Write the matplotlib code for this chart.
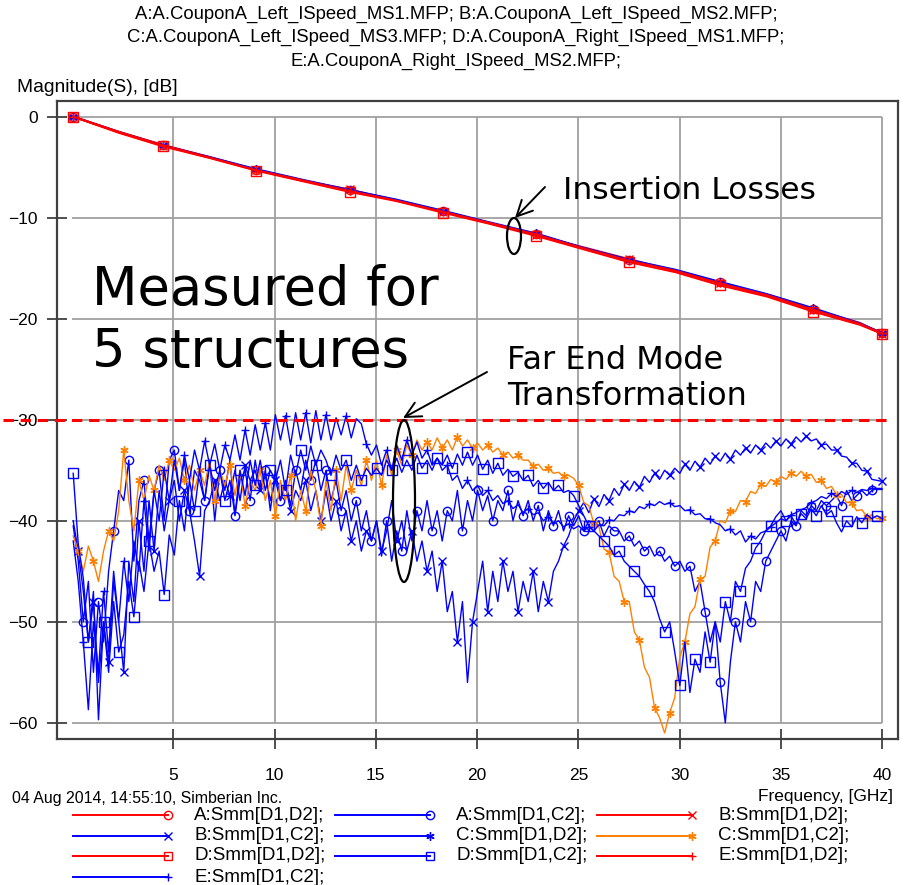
import numpy as np
import matplotlib.pyplot as plt
from matplotlib.patches import Ellipse

W, H = 907, 885

# insertion loss, Smm[D1,D2]
il_freq = [0.05, 2.3, 4.5, 6.8, 9.1, 11.4, 13.7, 16.0, 18.3, 20.6,
           22.9, 25.2, 27.5, 29.8, 32.0, 34.3, 36.6, 38.9, 40.0]
il_a = [0.0, -1.5, -2.8, -4.0, -5.25, -6.3, -7.3, -8.25, -9.35, -10.5,
        -11.6, -13.0, -14.2, -15.2, -16.4, -17.6, -19.0, -20.5, -21.4]
il_b = [0.0, -1.55, -2.9, -4.05, -5.3, -6.35, -7.2, -8.3, -9.4, -10.55,
        -11.7, -12.9, -14.1, -15.3, -16.5, -17.7, -19.1, -20.4, -21.5]
il_c = [0.0, -1.5, -2.85, -4.0, -5.2, -6.25, -7.25, -8.2, -9.3, -10.45,
        -11.55, -12.95, -14.15, -15.15, -16.35, -17.55, -18.95, -20.45, -21.4]
il_d = [0.0, -1.6, -2.95, -4.1, -5.35, -6.4, -7.45, -8.35, -9.5, -10.6,
        -11.8, -13.1, -14.4, -15.4, -16.7, -17.8, -19.3, -20.6, -21.5]
il_e = [0.0, -1.5, -2.85, -4.05, -5.3, -6.3, -7.35, -8.3, -9.4, -10.5,
        -11.65, -13.0, -14.25, -15.25, -16.5, -17.65, -19.1, -20.5, -21.45]

# far end mode transformation, Smm[D1,C2]
fem_freq = np.linspace(0.05, 40.0, 161)
fem_a = [-40.5, -44, -50, -46, -55, -48, -52, -45, -41, -37,
         -38, -34, -44, -38, -36, -42, -37, -35, -40, -34,
         -33, -37, -34, -39, -35, -36, -38, -34, -40, -35,
         -37, -34, -39.5, -36, -35, -38, -34, -37, -35, -39,
         -35, -38, -36, -38.5, -35, -37, -34, -36, -34, -37,
         -35, -38, -36, -39, -37, -40, -38, -41, -39, -42,
         -40, -43.5, -40, -44, -41, -43, -39, -42, -39, -41,
         -38, -41, -39, -42, -39, -40, -37, -41, -38, -40,
         -37, -39, -37.5, -40, -38, -39, -37, -40, -38, -39.5,
         -38, -40, -38.5, -41, -39, -40.5, -39, -41, -39.5, -40.5,
         -39.5, -41, -40, -40.5, -40, -41.5, -40.5, -41, -41, -42,
         -41.5, -42.5, -42, -43, -42.5, -43.5, -43, -44, -43.5, -44.5,
         -44, -45, -44.5, -47, -46, -49, -52, -50, -56, -60,
         -54, -50, -52, -48, -50, -46, -47, -44, -43, -42,
         -41, -42, -40, -40.5, -39, -39.5, -38.5, -39, -38, -38.5,
         -38, -37.5, -38.5, -37, -38, -37.5, -37, -37.5, -37, -36.8,
         -36.8]
fem_b = [-40, -43, -47, -52, -48, -56, -50, -54, -46, -50,
         -55, -44, -48, -40, -45, -38, -43, -37, -41, -38,
         -36, -40, -37, -39, -42, -45.5, -39, -38, -36, -38,
         -36, -37.5, -35, -38, -34.5, -36, -35, -37, -35.5, -38,
         -36, -38, -36.5, -39, -37, -38, -36, -39, -37, -40,
         -37, -40, -38, -41, -39, -42, -40, -43, -41, -42,
         -40, -43, -41, -38, -42, -40, -43, -41, -44, -42,
         -45, -43, -47, -44, -49, -47, -52, -48, -56, -50,
         -47, -44, -49, -45, -48, -44, -47, -45, -49, -46,
         -48, -45, -49, -46, -48, -45, -44, -42.5, -41.5, -40,
         -39, -38.2, -39.2, -37.8, -38.6, -37.4, -38, -36.8, -37.5, -36.4,
         -37, -36.1, -36.7, -35.6, -36.2, -35.3, -35.9, -35, -35.5, -34.8,
         -35.3, -34.4, -35, -34.1, -34.7, -33.8, -34.4, -33.6, -34.1, -33.3,
         -33.9, -33, -33.5, -32.8, -33.3, -32.5, -33, -32.3, -32.8, -32.1,
         -32.6, -31.9, -32.4, -31.7, -32.2, -31.6, -32.1, -31.9, -32.5, -32.4,
         -33, -33, -33.6, -33.7, -34.3, -34.3, -35, -35.1, -35.9, -36,
         -36.1]
fem_c = [-41.5, -43, -45, -42.5, -44, -46, -43, -41, -42, -39,
         -33, -38, -41, -36, -38, -35.5, -37, -34.5, -36, -34,
         -35, -33.8, -36, -34.5, -37, -35, -36.5, -34, -38, -35,
         -36.5, -34.5, -37.5, -35, -38.5, -36, -37, -35, -38, -36,
         -39.5, -36, -38, -35.5, -40, -37, -39, -35, -37, -40.5,
         -36, -39, -35, -38, -34.5, -37, -35, -36.5, -34, -36,
         -34, -36.5, -33.5, -35.5, -33, -34.5, -32.5, -33.5, -32, -33,
         -32.2, -33, -31.8, -32.8, -32, -33, -31.7, -32.6, -32, -32.8,
         -32.3, -33, -32.5, -33.2, -32.8, -33.5, -33.2, -33.8, -33.5, -34,
         -34, -34.6, -34.4, -35, -34.8, -35.3, -35.2, -35.6, -35.5, -35.8,
         -36.5, -38.2, -38.5, -40.3, -40.6, -42.8, -43.1, -45.5, -46, -48,
         -48, -51, -51.8, -54.5, -55.5, -58.5, -59.5, -61, -59, -57.5,
         -53.5, -52, -49.2, -48.5, -45.8, -45.5, -42.6, -42, -40, -40.2,
         -39, -39.1, -38, -38.1, -37.1, -37.3, -36.4, -36.6, -35.9, -36.2,
         -35.6, -35.9, -35.3, -35.6, -35.1, -35.6, -35.4, -36.2, -36, -36.8,
         -36.6, -37.4, -37.4, -38.2, -38.2, -39, -38.9, -39.6, -39.4, -39.8,
         -39.7]
fem_d = [-35.3, -42.3, -45.7, -52, -47, -59.7, -50, -55, -48, -53,
         -51.3, -46, -49.5, -44, -47, -42, -45, -43, -47.3, -41.4,
         -43.4, -38, -41, -36, -39, -35, -38, -34.5, -37, -35,
         -38, -36, -39.4, -35, -37.5, -34, -36.5, -34, -37, -35,
         -36, -34, -37, -33.5, -35.5, -33, -35, -32.6, -34.5, -33,
         -34, -35.5, -33.5, -35, -34, -36, -34.5, -36, -34.8, -35.5,
         -34.8, -35.5, -34, -35, -33.8, -35.2, -34, -35, -33.5, -34.8,
         -34, -35, -33.8, -34.5, -33.5, -34.8, -33.4, -34.5, -33.2, -34.5,
         -33.5, -34.9, -34, -35.3, -34.3, -35.5, -34.9, -35.6, -35.2, -36,
         -35.5, -36.6, -36, -36.8, -36.2, -37, -36.5, -37.2, -37, -37.5,
         -38.5, -39.5, -40.5, -41, -41.5, -42, -42.5, -43.4, -43, -44,
         -44.5, -45, -45.5, -46.3, -47, -48, -49.7, -51, -50, -53,
         -56.3, -52, -57, -53.7, -55, -51, -54, -50, -52, -48,
         -50, -46, -47, -44.7, -44, -42.7, -42, -41, -40.5, -39.6,
         -39, -40, -39.5, -40.4, -39.3, -39.8, -38.8, -39.5, -38.5, -39.4,
         -39, -40.2, -41.1, -40, -40.6, -39.6, -40.2, -39.4, -39.8, -39.5,
         -39.8]
fem_e = [-42, -46, -52, -58.7, -50, -55, -47, -53, -45, -50,
         -44, -48, -42, -45, -38, -43, -37, -40, -35, -38,
         -34, -37, -33.5, -36, -33, -35, -32.1, -34.5, -32.4, -35,
         -32.5, -34, -31.5, -34, -31, -33.5, -30.5, -33, -30.3, -33,
         -29.5, -32, -29.6, -32.5, -29.3, -32, -29.3, -32.3, -29.1, -32,
         -29.5, -32, -29.8, -31.5, -29.6, -31.8, -29.9, -30.4, -32.4, -33.5,
         -32.5, -34.5, -33, -35, -32.5, -34, -32, -33.5, -32.2, -33.8,
         -33, -34.5, -33.8, -35, -34.5, -36, -35.5, -36.8, -36, -37,
         -36.5, -37.5, -37, -38, -37.5, -38.3, -38, -38.8, -38.4, -39.2,
         -38.8, -39.4, -39.2, -40, -39.6, -40.3, -40, -40.6, -40.3, -40.8,
         -40.5, -41, -40.6, -41, -40.4, -40.5, -39.9, -40, -39.4, -39.5,
         -39, -39.2, -38.6, -38.8, -38.3, -38.5, -38.1, -38.4, -38.2, -38.6,
         -38.5, -39, -38.9, -39.4, -39.3, -39.8, -39.8, -40.2, -40.4, -41,
         -40.8, -41.4, -41, -42.1, -41.5, -41.8, -41.2, -41, -40.6, -40.2,
         -39.8, -40, -39.4, -39.2, -38.9, -38.7, -38.2, -38, -37.6, -37.8,
         -37.3, -37.6, -37.1, -37.4, -37, -37.2, -36.9, -37, -36.8, -36.9,
         -36.9]

limit_db = -30
x_ticks = [5, 10, 15, 20, 25, 30, 35, 40]
y_ticks = [0, -10, -20, -30, -40, -50, -60]

RED = "#ff0000"
BLUE = "#0000ff"
ORANGE = "#ff8000"
ASTER = (6, 2, 0)

# label, x data, y data, color, marker, markevery
series = [
    ("A:Smm[D1,D2];", il_freq, il_a, RED, "o", (0, 2)),
    ("A:Smm[D1,C2];", fem_freq, fem_a, BLUE, "o", (2, 3)),
    ("B:Smm[D1,D2];", il_freq, il_b, RED, "x", (0, 2)),
    ("B:Smm[D1,C2];", fem_freq, fem_b, BLUE, "x", (1, 3)),
    ("C:Smm[D1,D2];", il_freq, il_c, BLUE, ASTER, (0, 2)),
    ("C:Smm[D1,C2];", fem_freq, fem_c, ORANGE, ASTER, (1, 3)),
    ("D:Smm[D1,D2];", il_freq, il_d, RED, "s", (0, 2)),
    ("D:Smm[D1,C2];", fem_freq, fem_d, BLUE, "s", (0, 3)),
    ("E:Smm[D1,D2];", il_freq, il_e, RED, "+", (0, 2)),
    ("E:Smm[D1,C2];", fem_freq, fem_e, BLUE, "+", (2, 4)),
]

plt.rcParams["font.family"] = ["Liberation Sans", "DejaVu Sans"]

fig = plt.figure(figsize=(W / 100, H / 100), dpi=100)
ax = fig.add_axes([57 / W, 1 - 739 / H, (898 - 57) / W, (739 - 101) / H])
ax.set_xlim(-0.75, 40.79)
ax.set_ylim(-61.6, 1.55)

# grid only covers the 0..40 GHz, 0..-60 dB box
ax.vlines(x_ticks, -60, 0, color="#a0a0a0", lw=1.3, zorder=1)
ax.hlines(y_ticks, 0, 40, color="#a0a0a0", lw=1.3, zorder=1)

for i, (lab, fx, fy, col, mk, me) in enumerate(series):
    is_il = fx is il_freq
    ms = 6.5 if mk == "s" else 6
    ax.plot(fx, fy, color=col, lw=1.4 if is_il else 1.0, marker=mk,
            markevery=me, ms=ms, mfc="none", mew=1.0, zorder=3 + i)

ax.plot([-3.4, 40.3], [limit_db, limit_db], color=RED, lw=2.2,
        dashes=(3.4, 2.2), clip_on=False, zorder=20)

ax.set_xticks(x_ticks)
ax.set_yticks(y_ticks)
ax.tick_params(direction="inout", length=14, width=1.3, color="#404040",
               labelsize=12.5, pad=7)
ax.tick_params(axis="x", pad=14)
for sp in ax.spines.values():
    sp.set_color("#404040")
    sp.set_linewidth(1.6)

# overlay in pixel units for texts, legend and callouts
ov = fig.add_axes([0, 0, 1, 1], facecolor="none")
ov.set_xlim(0, W)
ov.set_ylim(H, 0)
ov.axis("off")

title_lines = [
    "A:A.CouponA_Left_ISpeed_MS1.MFP; B:A.CouponA_Left_ISpeed_MS2.MFP;",
    "C:A.CouponA_Left_ISpeed_MS3.MFP; D:A.CouponA_Right_ISpeed_MS1.MFP;",
    "E:A.CouponA_Right_ISpeed_MS2.MFP;",
]
for k, t in enumerate(title_lines):
    ov.text(456, 14 + 23.5 * k, t, ha="center", va="center", fontsize=13.3)

ov.text(17, 88, "Magnitude(S), [dB]", ha="left", va="center", fontsize=13.9)
ov.text(893, 797, "Frequency, [GHz]", ha="right", va="center", fontsize=12.5)
ov.text(12, 798, "04 Aug 2014, 14:55:10, Simberian Inc.", ha="left",
        va="center", fontsize=11.4)

big = dict(family="DejaVu Sans", color="black")
ov.text(563, 199, "Insertion Losses", fontsize=22.6, va="baseline", **big)
ov.text(92, 305, "Measured for", fontsize=38, va="baseline", **big)
ov.text(92, 367, "5 structures", fontsize=38, va="baseline", **big)
ov.text(507, 369, "Far End Mode", fontsize=23, va="baseline", **big)
ov.text(507, 405, "Transformation", fontsize=23, va="baseline", **big)

ov.add_patch(Ellipse((514, 236), 14, 36, fill=False, lw=1.6, ec="black"))
ov.add_patch(Ellipse((404, 501), 22, 162, fill=False, lw=1.6, ec="black"))
arrow = dict(arrowstyle="->", lw=1.4, color="black", mutation_scale=28,
             shrinkA=0, shrinkB=0)
ov.annotate("", xy=(515, 218), xytext=(545, 187), arrowprops=arrow)
ov.annotate("", xy=(403, 418), xytext=(487, 372), arrowprops=arrow)

# legend: line with marker at its right end, three columns
col_x = [73, 335, 597]
row_y = [815, 836, 856, 877]
for i, (lab, fx, fy, col, mk, me) in enumerate(series):
    r, c = divmod(i, 3)
    x0 = col_x[c]
    y = row_y[r]
    ov.plot([x0, x0 + 95], [y, y], color=col, lw=1.4)
    ov.plot([x0 + 95], [y], color=col, marker=mk, ms=6, mfc="none", mew=1.0)
    ov.text(x0 + 121, y, lab, ha="left", va="center", fontsize=13.5)

fig.savefig("out.png", dpi=100)
